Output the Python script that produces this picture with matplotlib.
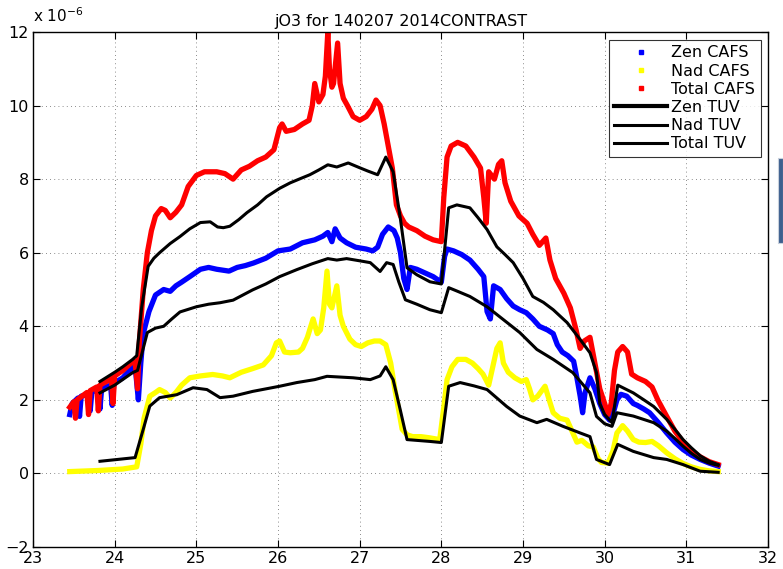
import matplotlib
matplotlib.use("Agg")
import matplotlib.pyplot as plt
from matplotlib.lines import Line2D
from matplotlib.patches import Rectangle

plt.rcParams['font.family'] = ['DejaVu Sans']

title = "jO3 for 140207 2014CONTRAST"
xticks = [23, 24, 25, 26, 27, 28, 29, 30, 31, 32]
yticks = [-2, 0, 2, 4, 6, 8, 10, 12]

# Total CAFS (red), units of 1e-6
tot_x = [23.45,23.50,23.52,23.54,23.60,23.66,23.68,23.70,23.78,23.80,23.82,23.90,23.96,23.98,24.00,24.10,24.20,24.25,24.28,24.30,
         24.35,24.40,24.45,24.50,24.57,24.62,24.68,24.75,24.82,24.90,25.00,25.10,25.25,25.35,25.45,25.55,25.65,25.75,25.85,25.95,
         26.02,26.05,26.10,26.20,26.30,26.38,26.42,26.45,26.50,26.55,26.58,26.61,26.63,26.66,26.68,26.73,26.76,26.80,26.85,26.92,
         27.00,27.08,27.15,27.20,27.25,27.30,27.35,27.40,27.45,27.50,27.55,27.60,27.70,27.80,27.90,28.00,28.03,28.07,28.12,28.20,
         28.30,28.40,28.48,28.52,28.55,28.58,28.65,28.70,28.74,28.78,28.85,28.95,29.05,29.12,29.20,29.28,29.33,29.40,29.50,29.58,
         29.65,29.70,29.75,29.82,29.88,29.94,30.00,30.04,30.08,30.12,30.16,30.22,30.28,30.33,30.40,30.50,30.58,30.65,30.76,30.86,
         30.96,31.06,31.17,31.28,31.39]
tot_y = [1.80,1.95,1.50,2.00,2.10,2.20,1.60,2.25,2.35,1.70,2.40,2.50,2.60,1.90,2.65,2.80,3.00,3.05,2.30,3.50,
         5.00,6.00,6.60,7.00,7.20,7.15,6.95,7.10,7.30,7.80,8.10,8.20,8.20,8.15,8.00,8.25,8.35,8.50,8.60,8.80,
         9.40,9.50,9.30,9.35,9.50,9.60,10.0,10.6,10.1,10.3,10.8,12.0,11.0,10.5,10.6,11.7,10.6,10.2,10.0,9.70,
         9.60,9.70,9.90,10.15,10.0,9.50,8.90,8.30,7.30,7.00,6.80,6.70,6.60,6.45,6.35,6.30,7.50,8.60,8.90,9.00,
         8.90,8.60,8.30,7.50,6.80,8.20,8.00,8.40,8.50,7.90,7.40,7.00,6.80,6.50,6.20,6.40,5.80,5.30,4.90,4.50,
         3.90,3.40,3.60,3.70,3.00,2.30,1.90,1.60,1.90,2.80,3.30,3.45,3.30,2.70,2.60,2.50,2.35,2.00,1.55,1.15,
         0.85,0.62,0.45,0.32,0.24]

# Zen CAFS (blue)
zen_x = [23.45,23.48,23.55,23.57,23.59,23.68,23.70,23.72,23.80,23.82,23.84,23.95,23.97,23.99,24.10,24.22,24.26,24.29,24.32,24.35,
         24.42,24.50,24.60,24.68,24.75,24.82,24.92,25.05,25.15,25.25,25.40,25.50,25.60,25.70,25.85,26.00,26.15,26.30,26.45,26.55,
         26.61,26.66,26.70,26.76,26.84,26.95,27.08,27.16,27.22,27.28,27.35,27.42,27.46,27.50,27.54,27.58,27.62,27.70,27.80,27.90,
         28.00,28.04,28.07,28.15,28.25,28.35,28.45,28.52,28.56,28.60,28.64,28.72,28.80,28.88,28.96,29.04,29.12,29.20,29.30,29.37,
         29.42,29.48,29.55,29.62,29.66,29.70,29.73,29.76,29.82,29.88,29.94,30.00,30.06,30.10,30.15,30.20,30.27,30.35,30.40,30.48,
         30.55,30.65,30.76,30.86,30.96,31.06,31.17,31.28,31.39]
zen_y = [1.60,1.90,2.05,1.55,2.10,2.15,1.70,2.20,2.30,1.75,2.30,2.40,1.85,2.45,2.60,2.90,2.70,2.00,3.00,3.80,
         4.40,4.85,5.00,4.95,5.10,5.20,5.35,5.55,5.60,5.55,5.50,5.60,5.65,5.72,5.85,6.05,6.10,6.27,6.35,6.45,
         6.55,6.30,6.65,6.40,6.27,6.15,6.10,6.05,6.15,6.50,6.70,6.60,6.40,6.00,5.30,5.00,5.60,5.55,5.45,5.35,
         5.20,5.90,6.10,6.05,5.95,5.80,5.55,5.35,4.40,4.20,5.10,5.00,4.75,4.55,4.45,4.37,4.20,4.00,3.90,3.80,
         3.50,3.30,3.20,3.05,2.60,2.10,1.65,2.20,2.60,2.30,1.90,1.60,1.45,1.60,2.00,2.15,2.10,1.90,1.85,1.75,
         1.65,1.40,1.10,0.85,0.65,0.50,0.38,0.28,0.20]

# Nad CAFS (yellow)
nad_x = [23.45,23.80,24.10,24.27,24.32,24.36,24.43,24.50,24.55,24.62,24.68,24.75,24.82,24.92,25.05,25.20,25.32,25.41,25.55,25.69,
         25.82,25.92,25.98,26.02,26.08,26.15,26.25,26.30,26.36,26.43,26.48,26.52,26.56,26.60,26.63,26.66,26.72,26.76,26.80,26.88,
         26.95,27.02,27.10,27.18,27.25,27.32,27.38,27.43,27.48,27.52,27.58,27.65,27.75,27.85,27.98,28.03,28.07,28.13,28.20,28.30,
         28.38,28.45,28.51,28.58,28.62,28.68,28.72,28.76,28.82,28.90,28.98,29.04,29.08,29.12,29.18,29.27,29.32,29.37,29.45,29.54,
         29.60,29.66,29.72,29.80,29.86,29.92,29.96,30.04,30.10,30.15,30.22,30.28,30.35,30.42,30.50,30.58,30.66,30.76,30.86,30.96,
         31.06,31.17,31.28,31.39]
nad_y = [0.05,0.08,0.12,0.18,0.80,1.50,2.10,2.20,2.28,2.20,2.05,2.20,2.40,2.60,2.65,2.69,2.65,2.60,2.75,2.85,
         2.95,3.20,3.55,3.60,3.30,3.28,3.30,3.40,3.70,4.20,3.80,3.90,4.50,5.50,4.60,4.50,5.10,4.30,4.00,3.65,
         3.50,3.45,3.55,3.60,3.60,3.50,3.00,2.30,1.70,1.20,1.05,1.00,1.00,0.97,0.92,1.80,2.55,2.90,3.10,3.10,
         3.00,2.85,2.70,2.40,2.80,3.40,3.55,3.00,2.75,2.60,2.50,2.55,2.30,2.00,2.10,2.37,2.00,1.65,1.50,1.45,
         1.15,0.85,0.90,0.75,0.72,0.40,0.30,0.28,0.60,1.10,1.30,1.15,0.92,0.85,0.84,0.87,0.75,0.56,0.40,0.27,
         0.18,0.11,0.07,0.05]

# Total TUV
ttuv_x = [23.82,24.00,24.10,24.22,24.27,24.33,24.41,24.48,24.55,24.68,24.80,24.92,25.05,25.17,25.26,25.33,25.41,25.52,25.62,25.75,
          25.86,26.02,26.15,26.28,26.39,26.50,26.61,26.72,26.86,27.00,27.10,27.22,27.32,27.41,27.50,27.58,27.70,27.86,28.00,28.09,
          28.19,28.35,28.45,28.56,28.68,28.78,28.88,29.00,29.12,29.25,29.37,29.54,29.70,29.82,29.90,29.94,30.00,30.09,30.16,30.25,
          30.35,30.48,30.60,30.76,30.86,30.96,31.06,31.17,31.28,31.39]
ttuv_y = [2.50,2.75,2.90,3.10,3.20,4.50,5.63,5.85,6.00,6.25,6.44,6.65,6.82,6.84,6.70,6.68,6.72,6.90,7.09,7.30,
          7.52,7.75,7.90,8.02,8.12,8.25,8.39,8.33,8.44,8.31,8.22,8.12,8.60,8.20,6.90,5.59,5.40,5.21,5.15,7.22,
          7.30,7.22,6.95,6.63,6.16,5.95,5.73,5.30,4.81,4.65,4.45,4.10,3.64,3.28,2.74,1.90,1.60,1.38,2.40,2.30,
          2.19,2.00,1.82,1.47,1.20,0.92,0.70,0.48,0.33,0.24]

# Zen TUV
ztuv_x = [23.82,24.00,24.22,24.28,24.40,24.50,24.60,24.70,24.80,25.00,25.15,25.29,25.45,25.57,25.69,25.85,26.02,26.23,26.42,26.61,
          26.72,26.84,27.00,27.13,27.25,27.33,27.41,27.48,27.56,27.70,27.86,28.00,28.09,28.20,28.35,28.56,28.76,28.96,29.17,29.37,
          29.61,29.82,29.90,30.00,30.09,30.15,30.35,30.60,30.76,30.86,30.96,31.06,31.17,31.28,31.39]
ztuv_y = [2.19,2.40,2.74,2.80,3.83,3.95,4.00,4.20,4.39,4.53,4.60,4.64,4.71,4.85,4.99,5.15,5.35,5.54,5.70,5.84,
          5.80,5.84,5.78,5.73,5.49,5.73,5.68,5.20,4.72,4.60,4.45,4.37,5.05,4.95,4.81,4.53,4.18,3.83,3.37,3.10,
          2.74,2.19,1.55,1.35,1.28,1.65,1.56,1.38,1.15,0.95,0.74,0.55,0.38,0.28,0.22]

# Nad TUV
ntuv_x = [23.82,24.25,24.35,24.43,24.55,24.76,24.96,25.13,25.29,25.45,25.69,26.02,26.23,26.45,26.60,26.92,27.13,27.25,27.32,27.41,
          27.50,27.58,27.86,28.00,28.09,28.23,28.40,28.56,28.80,28.96,29.17,29.29,29.49,29.70,29.82,29.90,30.06,30.16,30.35,30.60,
          30.76,30.96,31.17,31.39]
ntuv_y = [0.33,0.43,1.20,1.83,2.06,2.14,2.33,2.28,2.06,2.10,2.23,2.37,2.47,2.55,2.64,2.60,2.55,2.65,2.90,2.55,
          1.70,0.92,0.87,0.84,2.37,2.47,2.38,2.28,1.82,1.56,1.38,1.47,1.28,1.10,1.00,0.38,0.24,0.79,0.60,0.43,
          0.38,0.24,0.06,0.03]

W, H = 783, 569
fig = plt.figure(figsize=(W/100, H/100), dpi=100)
ax = fig.add_axes([33/W, (H-547)/H, (768-33)/W, (547-32)/H])

cafs_lw = 3.8
ax.plot(zen_x, zen_y, color='#0000ff', lw=cafs_lw, solid_joinstyle='round', zorder=2)
ax.plot(nad_x, nad_y, color='#ffff00', lw=cafs_lw, solid_joinstyle='round', zorder=2)
ax.plot(tot_x, tot_y, color='#ff0000', lw=cafs_lw, solid_joinstyle='round', zorder=2)
ax.plot(ztuv_x, ztuv_y, color='black', lw=2.2, zorder=3)
ax.plot(ntuv_x, ntuv_y, color='black', lw=2.2, zorder=3)
ax.plot(ttuv_x, ttuv_y, color='black', lw=2.2, zorder=3)

ax.set_xlim(23, 32)
ax.set_ylim(-2, 12)
ax.set_xticks(xticks)
ax.set_yticks(yticks)
ax.tick_params(direction='in', length=5, width=0.8, top=True, right=True, labelsize=11.5, pad=3)
ax.grid(True, linestyle=(0, (1, 4)), color='#666666', lw=0.6)
for s in ax.spines.values():
    s.set_linewidth(1.0)

ax.set_title(title, fontsize=11.5, pad=4)
fig.text(33/W, (H-16)/H, r"x 10$^{-6}$", fontsize=11, va='center', ha='left')

handles = [
    Line2D([], [], color='#0000ff', marker='s', markersize=2.5, linestyle='none'),
    Line2D([], [], color='#ffff00', marker='s', markersize=2.5, linestyle='none'),
    Line2D([], [], color='#ff0000', marker='s', markersize=2.5, linestyle='none'),
    Line2D([], [], color='black', lw=3),
    Line2D([], [], color='black', lw=2.2),
    Line2D([], [], color='black', lw=2.2),
]
labels = ["Zen CAFS", "Nad CAFS", "Total CAFS", "Zen TUV", "Nad TUV", "Total TUV"]
leg = ax.legend(handles, labels, loc='upper right', bbox_to_anchor=(0.99, 0.985),
                fontsize=11.5, frameon=True, fancybox=False, edgecolor='black',
                handlelength=3.3, handletextpad=0.25, labelspacing=0.2, borderpad=0.35,
                borderaxespad=0.0)
leg.get_frame().set_linewidth(0.8)

# window artifact at right edge
fig.patches.append(Rectangle((778/W, (H-243)/H), 5/W, 85/H, transform=fig.transFigure,
                             facecolor='#3d5f8e', edgecolor='#c8d0dc', lw=0.8))

fig.savefig("out.png", dpi=100)
